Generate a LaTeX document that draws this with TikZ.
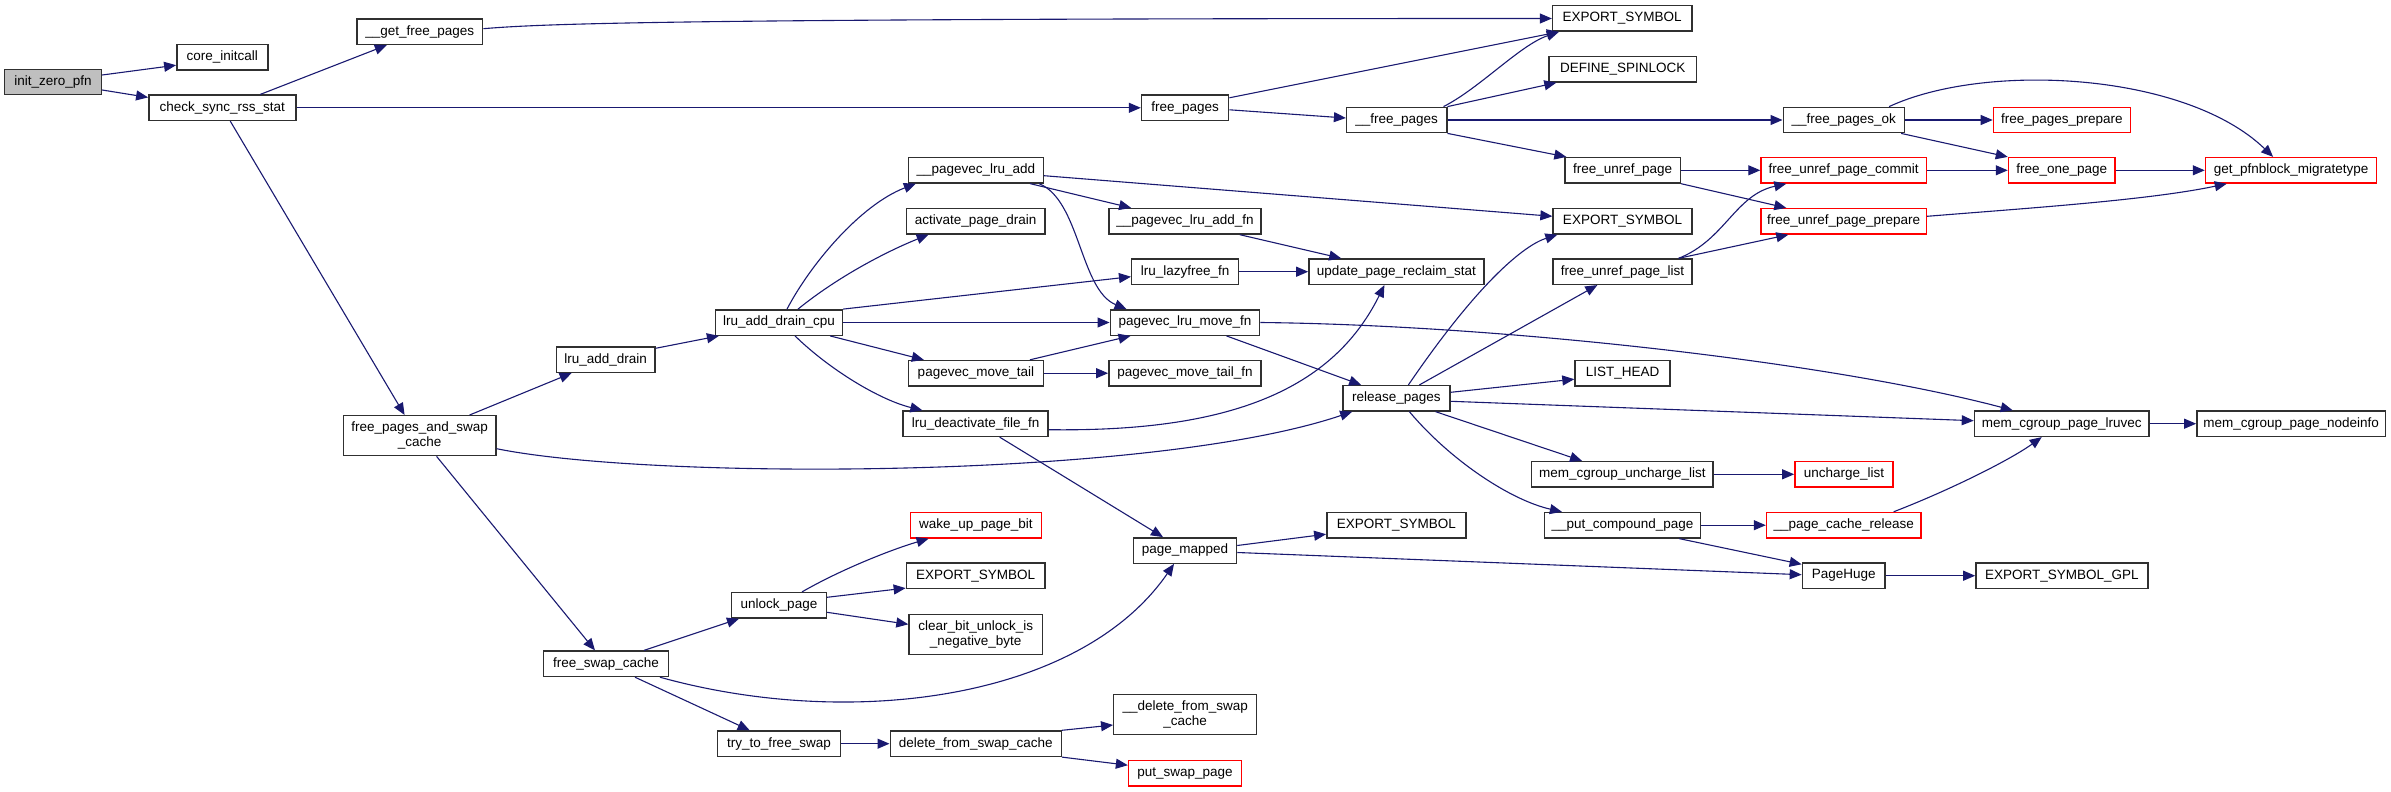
\documentclass[tikz,border=0pt]{standalone}
\usepackage{fontspec}
\setmainfont{Liberation Sans}
\usetikzlibrary{arrows.meta}
\definecolor{edgeblue}{HTML}{191970}
\definecolor{boxgray}{HTML}{303030}
\definecolor{fillgray}{HTML}{BFBFBF}
\tikzset{
  fn/.style={draw=boxgray, line width=1.4pt, fill=white, inner sep=0pt, minimum height=25.4pt,
    font=\fontsize{13.5}{15}\selectfont, align=center},
  gr/.style={fn},
  rd/.style={fn, draw=red},
  tall/.style={minimum height=40pt},
  bw/.style={minimum width=#1pt},
  ln/.style={draw=edgeblue, line width=1.1pt, -{Triangle[length=12pt,width=10pt]}}
}
\begin{document}
\begin{tikzpicture}[x=1pt,y=-1pt]
\useasboundingbox (0,0) rectangle (2391,792);
% nodes
\node[fn, fill=fillgray, bw=97] (init) at (53,82) {init\_zero\_pfn};
\node[fn, bw=91] (core) at (222.3,57.2) {core\_initcall};
\node[fn, bw=147] (chk) at (222.3,107.8) {check\_sync\_rss\_stat};
\node[fn, bw=125.6] (gfp) at (419.8,31.7) {\_\_get\_free\_pages};
\node[fn, bw=87.2] (fp) at (1185.1,107.8) {free\_pages};
\node[gr, bw=139.3] (exp1) at (1622.2,18.5) {EXPORT\_SYMBOL};
\node[gr, bw=147.4] (ds) at (1622.7,69.3) {DEFINE\_SPINLOCK};
\node[fn, bw=100.2] (fs) at (1396.7,120) {\_\_free\_pages};
\node[fn, bw=115.3] (fup) at (1622.7,170.3) {free\_unref\_page};
\node[fn, bw=121.2] (fpo) at (1843.8,120) {\_\_free\_pages\_ok};
\node[rd, bw=136.8] (fpp) at (2061.8,120) {free\_pages\_prepare};
\node[rd, bw=165.4] (fupc) at (1843.7,170.3) {free\_unref\_page\_commit};
\node[rd, bw=106.7] (fop) at (2061.8,170.3) {free\_one\_page};
\node[rd, bw=171.3] (gpm) at (2291.1,170.3) {get\_pfnblock\_migratetype};
\node[rd, bw=165.4] (fupp) at (1843.7,221.3) {free\_unref\_page\_prepare};
\node[fn, bw=134.7] (pla) at (975.9,170.2) {\_\_pagevec\_lru\_add};
\node[fn, bw=138.7] (apd) at (975.7,221.2) {activate\_page\_drain};
\node[fn, bw=152.3] (plaf) at (1185,221.3) {\_\_pagevec\_lru\_add\_fn};
\node[fn, bw=107.1] (llf) at (1185.2,271.7) {lru\_lazyfree\_fn};
\node[fn, bw=175] (uprs) at (1396.4,271.7) {update\_page\_reclaim\_stat};
\node[fn, bw=126.8] (ladc) at (779,322.5) {lru\_add\_drain\_cpu};
\node[fn, bw=149.5] (plmf) at (1185,322.5) {pagevec\_lru\_move\_fn};
\node[fn, bw=98.6] (lad) at (605.6,359.7) {lru\_add\_drain};
\node[fn, bw=134.8] (pmt) at (975.9,373.2) {pagevec\_move\_tail};
\node[fn, bw=152.3] (pmtf) at (1185,373.2) {pagevec\_move\_tail\_fn};
\node[fn, bw=145.1] (ldff) at (975.6,423.7) {lru\_deactivate\_file\_fn};
\node[fn, bw=107.1] (rp) at (1396.4,398.3) {release\_pages};
\node[gr, bw=138.9] (exp2) at (1622.5,221.3) {EXPORT\_SYMBOL};
\node[fn, bw=138.9] (fupl) at (1622.5,271.7) {free\_unref\_page\_list};
\node[gr, bw=95] (lh) at (1622.5,373.2) {LIST\_HEAD};
\node[gr, tall, bw=152.7] (fpasc) at (419.6,435.7) {free\_pages\_and\_swap\\\_cache};
\node[fn, bw=174.6] (mcpl) at (2061.7,423.7) {mem\_cgroup\_page\_lruvec};
\node[fn, bw=188.7] (mcpn) at (2291.2,423.7) {mem\_cgroup\_page\_nodeinfo};
\node[gr, bw=181.3] (mcul) at (1622.4,474.3) {mem\_cgroup\_uncharge\_list};
\node[rd, bw=98.3] (ul) at (1844,474.3) {uncharge\_list};
\node[gr, bw=155.8] (pcp) at (1622.5,525.2) {\_\_put\_compound\_page};
\node[rd, bw=154.4] (pcr) at (1843.7,525.2) {\_\_page\_cache\_release};
\node[fn, bw=82.7] (ph) at (1843.7,575.7) {PageHuge};
\node[fn, bw=172] (esgpl) at (2061.9,575.7) {EXPORT\_SYMBOL\_GPL};
\node[fn, bw=103.1] (pm) at (1185,550.5) {page\_mapped};
\node[gr, bw=139.2] (exppm) at (1396.4,525.2) {EXPORT\_SYMBOL};
\node[rd, bw=131.2] (wupb) at (975.9,525.2) {wake\_up\_page\_bit};
\node[fn, bw=138.7] (expl) at (975.7,575.7) {EXPORT\_SYMBOL};
\node[fn, tall, bw=133.4] (cbu) at (975.7,634.3) {clear\_bit\_unlock\_is\\\_negative\_byte};
\node[gr, bw=94.6] (up) at (779,605.3) {unlock\_page};
\node[fn, bw=124.5] (fsc) at (606,663.8) {free\_swap\_cache};
\node[fn, bw=123.2] (ttfs) at (779,743.7) {try\_to\_free\_swap};
\node[fn, bw=171] (dfsc) at (975.7,743.7) {delete\_from\_swap\_cache};
\node[fn, tall, bw=142.9] (dfsc2) at (1185.2,714.5) {\_\_delete\_from\_swap\\\_cache};
\node[rd, bw=112.9] (psp) at (1185,773.2) {put\_swap\_page};
% edges
\draw[ln] ([yshift=7pt]init.east) -- ([yshift=-8pt]core.west);
\draw[ln] ([yshift=-8pt]init.east) -- ([yshift=-3pt]chk.north west);
\draw[ln] ([xshift=38pt]chk.north) -- ([xshift=-33pt]gfp.south);
\draw[ln] (chk.east) -- (fp.west);
\draw[ln] ([xshift=8pt]chk.south) -- ([xshift=-15pt]fpasc.north);
\draw[ln] ([yshift=3pt]gfp.east) .. controls (540,24) and (650,18.5) .. (exp1.west);
\draw[ln] ([yshift=10pt]fp.east) -- ([xshift=7pt]exp1.south west);
\draw[ln] ([yshift=-2pt]fp.east) -- ([yshift=2pt]fs.west);
\draw[ln] ([xshift=-4pt]fs.north east) .. controls (1480,88) and (1520,45) .. ([xshift=7pt]exp1.south west);
\draw[ln] (fs.north east) -- ([xshift=8pt]ds.south west);
\draw[ln] (fs.east) -- (fpo.west);
\draw[ln] (fs.south east) -- ([xshift=2pt]fup.north west);
\draw[ln] (fup.east) -- (fupc.west);
\draw[ln] (fup.south east) -- ([xshift=26pt]fupp.north west);
\draw[ln] (fpo.east) -- (fpp.west);
\draw[ln] ([xshift=-4pt]fpo.south east) -- (fop.north west);
\draw[ln] ([xshift=-16pt]fpo.north east) .. controls (1985,62) and (2185,72) .. ([xshift=-18pt]gpm.north);
\draw[ln] (fupc.east) -- (fop.west);
\draw[ln] (fop.east) -- (gpm.west);
\draw[ln] ([yshift=5pt]fupp.east) .. controls (2030,208) and (2150,200) .. ([xshift=22pt]gpm.south west);
\draw[ln] ([xshift=-14pt]fupl.north east) .. controls (1725,240) and (1735,195) .. ([xshift=26pt]fupc.south west);
\draw[ln] ([xshift=-14pt]fupl.north east) -- ([xshift=28pt]fupp.south west);
\draw[ln] ([xshift=50pt]fpasc.north) -- ([xshift=16pt]lad.south west);
\draw[ln] ([yshift=-13pt]fpasc.east) .. controls (650,480) and (1150,480) .. ([xshift=10pt]rp.south west);
\draw[ln] ([xshift=17pt]fpasc.south) -- ([xshift=-11pt]fsc.north);
\draw[ln] ([yshift=-2pt]lad.north east) -- ([xshift=4pt]ladc.south west);
\draw[ln] ([xshift=8pt]ladc.north) .. controls (810,265) and (860,205) .. ([xshift=8pt]pla.south west);
\draw[ln] ([xshift=19pt]ladc.north) .. controls (840,275) and (890,250) .. ([xshift=23pt]apd.south west);
\draw[ln] (ladc.north east) -- ([yshift=-5pt]llf.west);
\draw[ln] (ladc.east) -- (plmf.west);
\draw[ln] ([xshift=-13pt]ladc.south east) -- ([xshift=16pt]pmt.north west);
\draw[ln] ([xshift=16pt]ladc.south) .. controls (830,370) and (880,400) .. ([xshift=20pt]ldff.north west);
\draw[ln] ([yshift=-5.5pt]pla.east) -- ([yshift=5pt]exp2.west);
\draw[ln] ([xshift=-14pt]pla.south east) -- ([xshift=23pt]plaf.north west);
\draw[ln] ([xshift=-5pt]pla.south east) .. controls (1080,200) and (1080,290) .. ([xshift=17pt]plmf.north west);
\draw[ln] ([xshift=-22pt]plaf.south east) -- ([xshift=33pt]uprs.north west);
\draw[ln] (llf.east) -- (uprs.west);
\draw[ln] ([yshift=-6pt]ldff.east) .. controls (1220,432) and (1330,395) .. ([xshift=-12pt]uprs.south);
\draw[ln] ([xshift=24pt]ldff.south) -- ([xshift=-22pt]pm.north);
\draw[ln] ([xshift=-14pt]pmt.north east) -- ([xshift=21pt]plmf.south west);
\draw[ln] (pmt.east) -- (pmtf.west);
\draw[ln] ([xshift=-34pt]plmf.south east) -- ([xshift=19pt]rp.north west);
\draw[ln] (plmf.east) .. controls (1500,325) and (1830,362) .. ([xshift=39pt]mcpl.north west);
\draw[ln] ([xshift=12pt]rp.north) .. controls (1480,280) and (1525,245) .. ([xshift=5pt]exp2.south west);
\draw[ln] ([xshift=23pt]rp.north) -- ([xshift=45pt]fupl.south west);
\draw[ln] ([yshift=6pt]rp.east) -- ([yshift=-6pt]lh.west);
\draw[ln] ([yshift=-3pt]rp.east) -- ([yshift=3pt]mcpl.west);
\draw[ln] ([xshift=-15pt]rp.south east) -- ([xshift=51pt]mcul.north west);
\draw[ln] ([xshift=13pt]rp.south) .. controls (1450,460) and (1510,500) .. ([xshift=18pt]pcp.north west);
\draw[ln] (mcpl.east) -- (mcpn.west);
\draw[ln] (mcul.east) -- (ul.west);
\draw[ln] (pcp.east) -- (pcr.west);
\draw[ln] ([xshift=-22pt]pcp.south east) -- ([yshift=-2pt]ph.north west);
\draw[ln] ([xshift=-28pt]pcr.north east) .. controls (1950,490) and (2010,460) .. ([xshift=-20pt]mcpl.south);
\draw[ln] ([yshift=5pt]pm.east) -- ([yshift=-9pt]exppm.west);
\draw[ln] ([yshift=-2pt]pm.east) -- ([yshift=1pt]ph.west);
\draw[ln] (ph.east) -- (esgpl.west);
\draw[ln] ([xshift=38pt]fsc.north) -- ([xshift=8pt]up.south west);
\draw[ln] ([xshift=-9pt]fsc.south east) .. controls (850,730) and (1080,700) .. ([xshift=-11pt]pm.south);
\draw[ln] ([xshift=29pt]fsc.south) -- ([xshift=33pt]ttfs.north west);
\draw[ln] ([xshift=23pt]up.north) .. controls (840,570) and (890,550) .. ([xshift=19pt]wupb.south west);
\draw[ln] ([yshift=8pt]up.east) -- ([yshift=1pt]expl.south west);
\draw[ln] ([yshift=-7pt]up.east) -- ([yshift=10pt]cbu.west);
\draw[ln] (ttfs.east) -- (dfsc.west);
\draw[ln] (dfsc.north east) -- ([yshift=-10.5pt]dfsc2.west);
\draw[ln] (dfsc.south east) -- ([yshift=8pt]psp.west);
\end{tikzpicture}
\end{document}
